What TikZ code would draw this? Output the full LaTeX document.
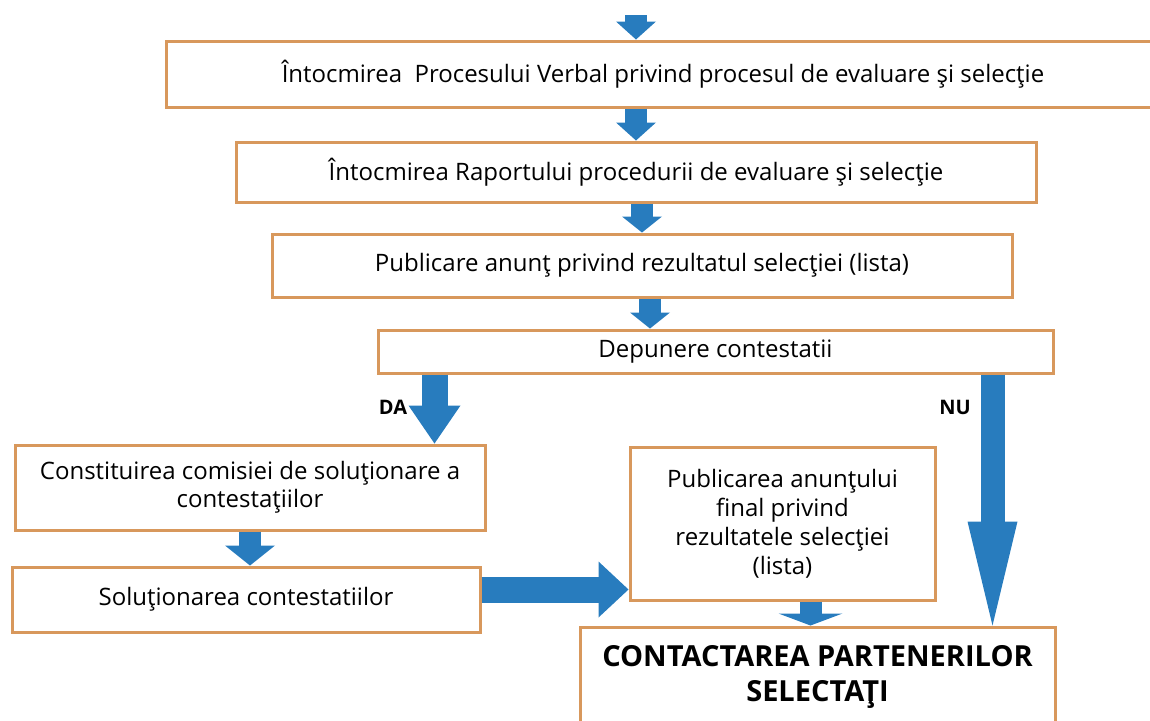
\documentclass[tikz,border=0pt]{standalone}
\usepackage{fontspec}
\setmainfont{Open Sans}
\usetikzlibrary{arrows.meta}

\definecolor{boxorange}{RGB}{216,152,92}
\definecolor{arrowblue}{RGB}{40,124,190}

\tikzset{
  box/.style={draw=boxorange, line width=1.5pt, fill=white, inner sep=0pt, align=center,
    font=\fontsize{12}{14}\selectfont},
  flow/.style n args={3}{draw=arrowblue, line width=#1,
    -{Triangle[width=#2,length=#3,line width=0pt]}},
  lbl/.style={font=\bfseries\fontsize{10}{12}\selectfont}
}

\begin{document}
\begin{tikzpicture}[x=0.5pt,y=-0.5pt]
\useasboundingbox (0,0) rectangle (1150,720);

% les cadres
\node[box, minimum width=496.5pt, minimum height=33pt] (proces) at (663,74)
  {Întocmirea\ \ Procesului Verbal privind procesul de evaluare şi selecţie};
\node[box, minimum width=400pt, minimum height=30pt] (raport) at (636,172)
  {Întocmirea Raportului procedurii de evaluare şi selecţie};
\node[box, minimum width=370pt, minimum height=31.5pt] (anunt) at (642,265.5)
  {Publicare anunţ privind rezultatul selecţiei (lista)};
\node[box, minimum width=337.5pt, minimum height=21.5pt] (depunere) at (715.5,351.5)
  {Depunere contestatii};
\node[box, minimum width=235pt, minimum height=42.5pt] (comisie) at (250,487.5)
  {Constituirea comisiei de soluţionare a\\contestaţiilor};
\node[box, minimum width=234pt, minimum height=32.5pt] (solutionare) at (246,599.5)
  {Soluţionarea contestatiilor};
\node[box, minimum width=152.5pt, minimum height=76.5pt,
  font=\fontsize{12}{14.5}\selectfont] (final) at (782.5,523.5)
  {Publicarea anunţului\\final privind\\rezultatele selecţiei\\(lista)};
\node[box, minimum width=237.5pt, minimum height=50pt,
  font=\bfseries\fontsize{14.5}{17.5}\selectfont] (contact) at (817.5,677)
  {CONTACTAREA PARTENERILOR\\SELECTAŢI};

% DA / NU
\node[lbl] (da label) at (393,407) {DA};
\node[lbl] (nu label) at (955,407) {NU};

% les fleches
\coordinate (start) at (636,15);
\coordinate (da) at ([xshift=-26pt]comisie.north east);
\coordinate (nu) at ([xshift=-31pt]depunere.south east);
\coordinate (fc) at ([xshift=14pt]final.south);
\coordinate (pc) at ([xshift=4pt]anunt.south);

\draw[flow={11pt}{20pt}{9pt}] (start) -- (start |- proces.north);
\draw[flow={11pt}{20pt}{9pt}] (proces.south -| raport.north) -- (raport.north);
\draw[flow={11pt}{20pt}{8pt}] (raport.south -| anunt.north) -- (anunt.north);
\draw[flow={11pt}{20pt}{8pt}] (pc) -- (pc |- depunere.north);
\draw[flow={13pt}{26pt}{19pt}] (da |- depunere.south) -- (da);
\draw[flow={12pt}{25pt}{52pt}] (nu) -- (nu |- contact.north);
\draw[flow={11pt}{25pt}{10pt}] (comisie.south) -- (comisie.south |- solutionare.north);
\draw[flow={13pt}{28pt}{15pt}] ([yshift=5pt]solutionare.east) -- ([yshift=5pt]solutionare.east -| final.west);
\draw[flow={11pt}{32pt}{6pt}] (fc) -- (fc |- contact.north);

\end{tikzpicture}
\end{document}
